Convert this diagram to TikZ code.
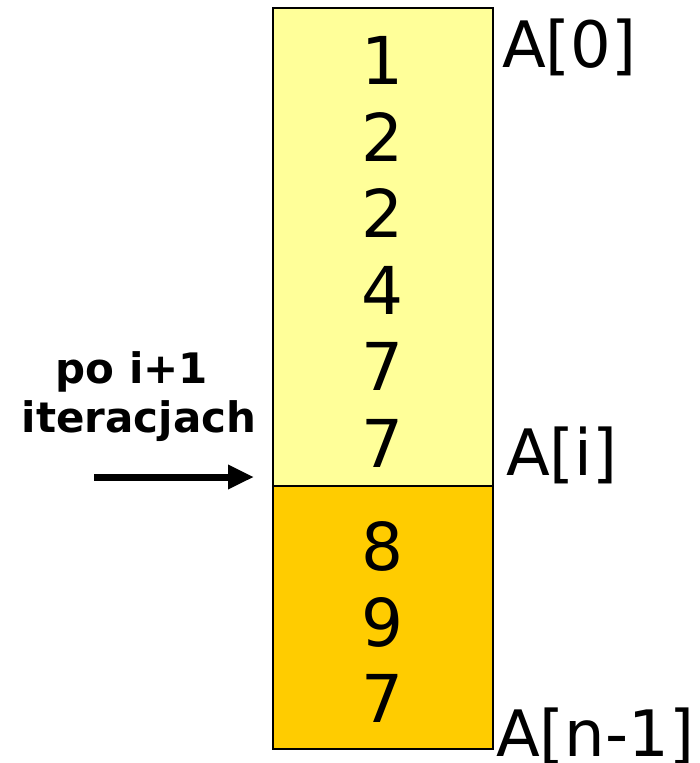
\documentclass[tikz,border=0pt]{standalone}
\usepackage{fontspec}
\setmainfont{DejaVu Sans}
\usetikzlibrary{arrows.meta}
\begin{document}
\begin{tikzpicture}[x=1pt,y=-1pt,
  cell/.style={draw=black,line width=1.5pt,minimum width=220pt,inner sep=0pt,outer sep=0pt},
  val/.style={anchor=center,inner sep=0pt,font=\fontsize{66}{66}\selectfont},
  idx/.style={anchor=base west,inner sep=0pt,font=\fontsize{64}{64}\selectfont},
  note/.style={anchor=base,inner sep=0pt,font=\bfseries\fontsize{42}{42}\selectfont}]
\useasboundingbox (0,0) rectangle (700,763);
% sorted part and remaining part of the array
\node[cell,fill={rgb,255:red,255;green,255;blue,153},minimum height=478pt,anchor=north west] (top) at (273,8) {};
\node[cell,fill={rgb,255:red,255;green,204;blue,0},minimum height=263pt,anchor=north west] (bot) at (273,486) {};
% values
\foreach \v [count=\k from 0] in {1,2,2,4,7,7}
  \node[val] (t\k) at (382,{60+76.7*\k}) {\v};
\foreach \v [count=\k from 0] in {8,9,7}
  \node[val] (b\k) at (382,{546+76*\k}) {\v};
% index labels
\node[idx] (a0) at (502,67) {A[0]};
\node[idx] (ai) at (506,475) {A[i]};
\node[idx] (an) at (496,756) {A[n-1]};
% iteration note and arrow
\node[note] (n1) at (132,383) {po i+1};
\node[note] (n2) at (139,432) {iteracjach};
\coordinate (s) at (94,477);
\coordinate (e) at (254,477);
\draw[line width=7pt,-{Triangle[length=26pt,width=23pt]}] (s) -- (e);
\end{tikzpicture}
\end{document}
